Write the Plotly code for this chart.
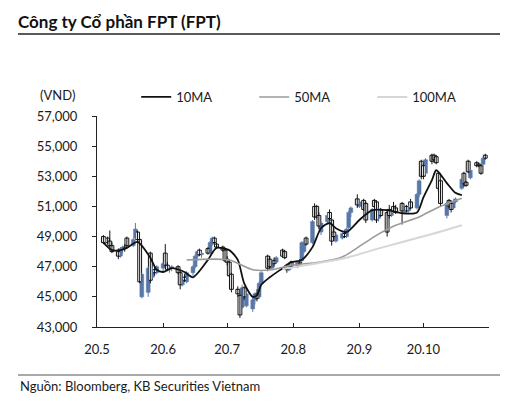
import pandas as pd
import plotly.graph_objects as go

# ---------------- data ----------------
holidays = ["2020-09-02"]
dates = [d for d in pd.bdate_range("2020-05-04", "2020-10-30")
         if d.strftime("%Y-%m-%d") not in holidays]

opens = [
    49000, 48600, 48900, 48700, 48400,   # May 4-8
    48000, 47700, 48200, 48300, 48900,   # May 11-15
    48400, 48900, 49300, 48800, 45000,   # May 18-22
    45300, 47900, 46300, 46800, 46600,   # May 25-29
    46900, 47900, 47100, 46800, 46900,   # Jun 1-5
    47000, 46600, 45800, 46300, 46000,   # Jun 8-12
    46600, 47000, 47700, 48100, 47800,   # Jun 15-19
    48200, 47900, 48500, 48900, 48500,   # Jun 22-26
    48300, 48100, 47500, 47300, 46500,   # Jun 29-Jul 3
    45500, 45100, 44300, 45600, 44400,   # Jul 6-10
    44200, 44800, 45200, 45000, 45900,   # Jul 13-17
    47700, 47500, 46900, 47400, 47300,   # Jul 20-24
    48100, 48000, 47100, 46800, 47300,   # Jul 27-31
    47000, 47300, 47400, 48000, 48900,   # Aug 3-7
    48600, 51000, 51000, 50400, 49300,   # Aug 10-14
    50000, 50600, 50100, 49300, 48700,   # Aug 17-21
    48900, 49200, 49000, 49600, 50600,   # Aug 24-28
    51500, 51000, 51400, 51200,          # Aug 31-Sep 4
    50100, 51400, 51300, 50200, 50800,   # Sep 7-11
    50600, 50800, 50400, 51000, 50900,   # Sep 14-18
    51200, 50700, 51000, 50700, 51300,   # Sep 21-25
    50900, 51800, 54000, 53700, 53200,   # Sep 28-Oct 2
    54400, 54400, 54300, 53200, 52700,   # Oct 5-9
    50400, 51400, 51200, 50900, 51300,   # Oct 12-16
    52200, 53200, 52600, 54000, 52900,   # Oct 19-23
    53900, 53800, 53700, 53800, 54400,   # Oct 26-30
]
highs = [
    49100, 48900, 49000, 49400, 48600,
    48200, 48300, 48400, 48500, 49000,
    48900, 49900, 49400, 48900, 46600,
    47000, 48000, 47000, 47000, 47100,
    47300, 48500, 47300, 47000, 47100,
    47100, 46700, 46300, 46500, 46700,
    47100, 47800, 48100, 48200, 48000,
    48300, 48700, 49000, 49000, 48600,
    48400, 48200, 47700, 47400, 46600,
    45700, 45200, 45800, 45700, 45400,
    45000, 45300, 45500, 46000, 46700,
    47800, 47700, 47500, 47600, 47700,
    48200, 48100, 47200, 47200, 47400,
    47400, 47500, 48700, 48700, 49000,
    50100, 51200, 51100, 50600, 50000,
    50600, 50800, 50200, 49500, 49200,
    49300, 49400, 49600, 50700, 51000,
    51800, 51400, 51500, 51300,
    50900, 51500, 51400, 50900, 50900,
    50800, 51100, 50700, 51300, 51100,
    51300, 51000, 51100, 51100, 51500,
    51900, 52800, 54100, 53800, 54200,
    54500, 54500, 54400, 53300, 52800,
    51300, 51500, 51400, 51400, 51600,
    52900, 53300, 52700, 54100, 53500,
    54000, 53900, 53800, 54300, 54500,
]
lows = [
    48500, 48400, 48500, 48300, 47900,
    47500, 47600, 47900, 48000, 48300,
    48300, 48800, 48700, 45900, 44900,
    45000, 45900, 46200, 46400, 46500,
    46700, 47000, 46700, 46600, 46700,
    46500, 45500, 45700, 46000, 45900,
    46400, 46900, 47400, 47700, 47600,
    47800, 47800, 48400, 48500, 48200,
    48000, 47300, 47100, 46300, 45300,
    45000, 43600, 44200, 44800, 44300,
    44000, 44500, 44700, 44900, 45800,
    46700, 46800, 46800, 47000, 47200,
    47600, 47500, 46600, 46700, 46900,
    46900, 47000, 47300, 47900, 48400,
    48500, 50100, 50200, 49500, 49100,
    49900, 50100, 48400, 48900, 48600,
    48800, 48900, 48900, 49500, 50300,
    50900, 50900, 50700, 49900,
    50000, 50900, 49900, 50000, 50300,
    49000, 50200, 50300, 50600, 50500,
    49800, 50500, 50600, 50600, 50800,
    50800, 51600, 52800, 52800, 53100,
    53800, 53900, 53800, 52000, 51000,
    50200, 50900, 50600, 50800, 51200,
    52100, 52300, 52300, 53200, 52800,
    53600, 53600, 53100, 53700, 54100,
]
closes = [
    48600, 48800, 48600, 48400, 48000,
    47700, 48200, 48300, 48200, 48400,
    48800, 49500, 48800, 46000, 46500,
    46900, 46100, 46800, 46600, 47000,
    47200, 47100, 46800, 46900, 47000,
    46600, 45800, 46200, 46100, 46600,
    47000, 47700, 48000, 47800, 47900,
    47900, 48600, 48900, 48600, 48300,
    48100, 47400, 47300, 46400, 45500,
    45200, 43800, 45600, 45000, 45200,
    44800, 45200, 44900, 45900, 46600,
    46900, 47000, 47400, 47200, 47600,
    47700, 47600, 46800, 47100, 47000,
    47300, 47200, 48600, 48500, 48500,
    50000, 50300, 50300, 49700, 49900,
    50400, 50200, 48700, 49000, 49100,
    49200, 49000, 49500, 50600, 50900,
    51100, 51300, 50800, 50100,
    50800, 51000, 50100, 50800, 50400,
    49300, 50400, 50600, 50700, 50600,
    50700, 50900, 50700, 51000, 50900,
    51800, 52700, 53000, 53000, 54100,
    54000, 54100, 53900, 52200, 51200,
    51200, 51000, 50800, 51300, 51500,
    52800, 52500, 52400, 53300, 53400,
    53700, 53700, 53200, 54200, 54200,
]
assert len(opens) == len(highs) == len(lows) == len(closes) == len(dates)

ma10_dates = ["2020-05-04", "2020-05-08", "2020-05-12", "2020-05-15", "2020-05-20",
              "2020-05-26", "2020-05-29", "2020-06-01", "2020-06-05", "2020-06-11",
              "2020-06-15", "2020-06-22", "2020-06-26", "2020-07-02", "2020-07-06",
              "2020-07-09", "2020-07-13", "2020-07-15", "2020-07-17", "2020-07-21",
              "2020-07-27", "2020-07-31", "2020-08-05", "2020-08-10", "2020-08-14",
              "2020-08-18", "2020-08-21", "2020-08-26", "2020-09-01", "2020-09-07",
              "2020-09-14", "2020-09-21", "2020-09-28", "2020-10-01", "2020-10-05",
              "2020-10-07", "2020-10-12", "2020-10-16", "2020-10-19"]
ma10 = [48600, 48100, 48100, 48250, 48650,
        47600, 46800, 46650, 46900, 46650,
        46300, 47450, 48250, 48100, 47450,
        45900, 45000, 45100, 45800, 46300,
        46900, 47300, 47450, 48300, 49550,
        49900, 49550, 49300, 50100, 50750,
        50750, 50550, 50600, 51600, 52750,
        53400, 52550, 51900, 51750]

ma50_dates = ["2020-06-12", "2020-07-02", "2020-07-13", "2020-07-22", "2020-07-31",
              "2020-08-13", "2020-08-24", "2020-08-31", "2020-09-08", "2020-09-18",
              "2020-09-29", "2020-10-08", "2020-10-19"]
ma50 = [47450, 47450, 46800, 46800, 47100,
        47300, 47650, 48250, 49000, 49750,
        50300, 50950, 51550]

ma100_dates = ["2020-07-27", "2020-08-13", "2020-08-26", "2020-09-11", "2020-09-28",
               "2020-10-12", "2020-10-19"]
ma100 = [46850, 47250, 47600, 48250, 48900, 49450, 49750]

y_ticks = [43000, 45000, 47000, 49000, 51000, 53000, 55000, 57000]
x_tickvals = ["2020-05-01", "2020-06-01", "2020-07-01", "2020-08-01", "2020-09-01", "2020-10-01"]
x_ticktext = ["20.5", "20.6", "20.7", "20.8", "20.9", "20.10"]

# ---------------- styling ----------------
FONT = "Lato, 'Noto Sans', sans-serif"
BLUE = "#5878A8"
DARK = "#111111"
AX = "#222222"
DAY_MS = 86400000

# split candles into rising (blue filled) and falling (hollow) sets
up = [i for i in range(len(dates)) if closes[i] > opens[i]]
dn = [i for i in range(len(dates)) if closes[i] <= opens[i]]


def wick_xy(idx):
    xs, ys = [], []
    for i in idx:
        xs += [dates[i], dates[i], None]
        ys += [lows[i], highs[i], None]
    return xs, ys


fig = go.Figure()
for idx, col in ((up, BLUE), (dn, DARK)):
    wx, wy = wick_xy(idx)
    fig.add_trace(go.Scatter(x=wx, y=wy, mode="lines", line=dict(color=col, width=1),
                             showlegend=False, hoverinfo="skip", connectgaps=False))
fig.add_trace(go.Bar(
    x=[dates[i] for i in up], base=[opens[i] for i in up],
    y=[closes[i] - opens[i] for i in up], width=1.8 * DAY_MS,
    marker=dict(color=BLUE, line=dict(color=BLUE, width=0.5)),
    showlegend=False, hoverinfo="skip"))
fig.add_trace(go.Bar(
    x=[dates[i] for i in dn], base=[closes[i] for i in dn],
    y=[max(opens[i] - closes[i], 60) for i in dn], width=1.8 * DAY_MS,
    marker=dict(color="white", line=dict(color=DARK, width=1)),
    showlegend=False, hoverinfo="skip"))

fig.add_trace(go.Scatter(x=ma10_dates, y=ma10, name="10MA", mode="lines",
                         line=dict(color=DARK, width=1.8, shape="spline", smoothing=0.7)))
fig.add_trace(go.Scatter(x=ma50_dates, y=ma50, name="50MA", mode="lines",
                         line=dict(color="#9a9a9a", width=1.6, shape="spline", smoothing=0.7)))
fig.add_trace(go.Scatter(x=ma100_dates, y=ma100, name="100MA", mode="lines",
                         line=dict(color="#d6d6d6", width=2, shape="spline", smoothing=0.7)))

fig.update_layout(
    width=520, height=401,
    margin=dict(l=97, r=31, t=116, b=74, autoexpand=False),
    paper_bgcolor="white", plot_bgcolor="white",
    font=dict(family=FONT, size=13, color="#1a1a1a"),
    barmode="overlay",
    title=dict(text="<b>Công ty Cổ phần FPT (FPT)</b>", x=18 / 520, xanchor="left",
               xref="container", yref="container", y=1 - 22 / 401, yanchor="middle",
               font=dict(family=FONT, size=17, color="#111111")),
    showlegend=True,
    legend=dict(orientation="h", x=0.10, xanchor="left", y=1.09, yanchor="middle",
                font=dict(size=13), bgcolor="rgba(0,0,0,0)", itemwidth=30,
                entrywidth=73, entrywidthmode="pixels", traceorder="normal"),
    xaxis=dict(type="date", range=["2020-05-01", "2020-10-31 18:00"],
               tickvals=x_tickvals, ticktext=x_ticktext,
               ticks="inside", ticklen=4, tickcolor=AX, tickwidth=1,
               showline=True, linecolor=AX, linewidth=1, automargin=False,
               showgrid=False, zeroline=False,
               ticklabelstandoff=10, tickfont=dict(size=13)),
    yaxis=dict(range=[43000, 57000], tickvals=y_ticks, tickformat=",d",
               ticks="outside", ticklen=4, tickcolor=AX, tickwidth=1,
               showline=True, linecolor=AX, linewidth=1, automargin=False,
               showgrid=False, zeroline=False, ticklabelstandoff=12,
               tickfont=dict(size=13)),
    yaxis2=dict(overlaying="y", matches="y", side="left", range=[43000, 57000],
                tickvals=y_ticks, ticks="inside", ticklen=4, tickcolor=AX, automargin=False,
                showticklabels=False, showline=False, showgrid=False, zeroline=False),
)

# (VND) unit label
fig.add_annotation(text="(VND)", xref="paper", yref="paper", x=(57 - 97) / 392,
                   y=(327 - 95) / 211, xanchor="center", yanchor="middle",
                   showarrow=False, font=dict(size=13, color="#1a1a1a"))
# source footer
fig.add_annotation(text="Nguồn: Bloomberg, KB Securities Vietnam", xref="paper", yref="paper",
                   x=(18 - 97) / 392, y=(327 - 386) / 211, xanchor="left", yanchor="middle",
                   showarrow=False, font=dict(size=13, color="#1a1a1a"))
# title underline and footer rule
fig.add_shape(type="line", xref="paper", yref="paper", x0=(18 - 97) / 392, x1=(500 - 97) / 392,
              y0=(327 - 34) / 211, y1=(327 - 34) / 211, line=dict(color="#222222", width=1.3))
fig.add_shape(type="line", xref="paper", yref="paper", x0=(18 - 97) / 392, x1=(500 - 97) / 392,
              y0=(327 - 375) / 211, y1=(327 - 375) / 211, line=dict(color="#555555", width=1.2))

fig.write_html("out.html", config={"displayModeBar": False},
               post_script="document.body.style.margin='0';")
